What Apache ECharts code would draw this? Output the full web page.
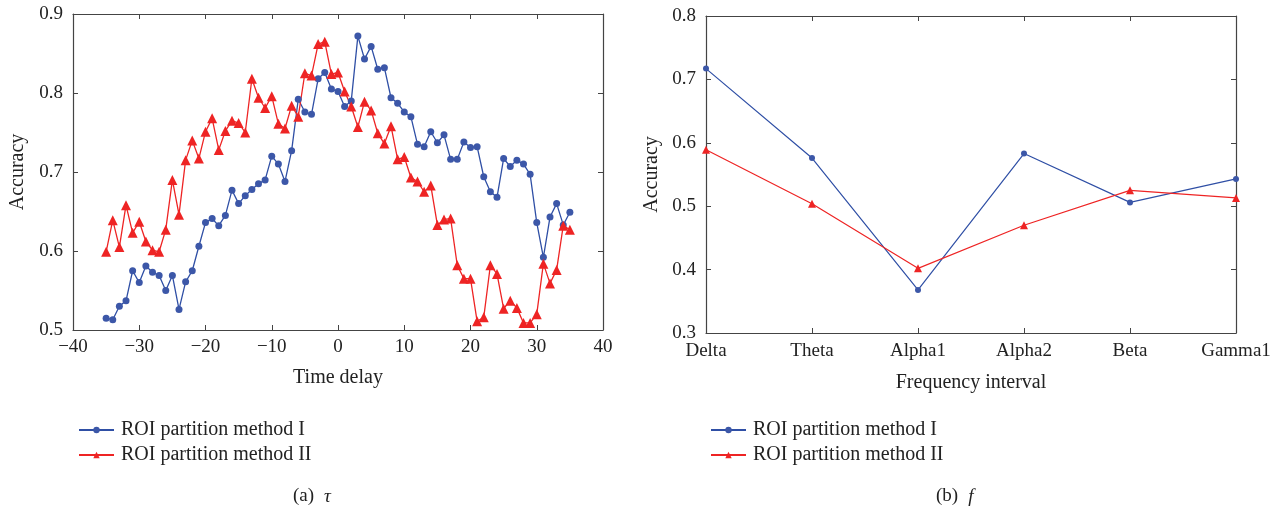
<!DOCTYPE html>
<html>
<head>
<meta charset="utf-8">
<script src="https://cdn.jsdelivr.net/npm/echarts@6/dist/echarts.min.js"></script>
<style>html,body{margin:0;padding:0;background:#fff}#c{width:1284px;height:509px}</style>
</head>
<body>
<div id="c"></div>
<script>
// ---- Data ----
const tauValues = [-35,-34,-33,-32,-31,-30,-29,-28,-27,-26,-25,-24,-23,-22,-21,-20,-19,-18,-17,-16,-15,-14,-13,-12,-11,-10,-9,-8,-7,-6,-5,-4,-3,-2,-1,0,1,2,3,4,5,6,7,8,9,10,11,12,13,14,15,16,17,18,19,20,21,22,23,24,25,26,27,28,29,30,31,32,33,34,35];
const tauMethod1 = [0.515,0.513,0.530,0.537,0.575,0.560,0.581,0.573,0.569,0.550,0.569,0.526,0.561,0.575,0.606,0.636,0.641,0.632,0.645,0.677,0.660,0.670,0.678,0.685,0.690,0.720,0.710,0.688,0.727,0.792,0.776,0.773,0.818,0.826,0.805,0.802,0.783,0.790,0.872,0.843,0.859,0.830,0.832,0.794,0.787,0.776,0.770,0.735,0.732,0.751,0.737,0.747,0.716,0.716,0.738,0.731,0.732,0.694,0.675,0.668,0.717,0.707,0.715,0.710,0.697,0.636,0.592,0.643,0.660,0.633,0.649];
const tauMethod2 = [0.599,0.639,0.605,0.658,0.623,0.637,0.612,0.601,0.599,0.627,0.690,0.646,0.715,0.740,0.717,0.751,0.768,0.728,0.752,0.765,0.762,0.750,0.818,0.794,0.781,0.796,0.761,0.755,0.784,0.770,0.825,0.822,0.862,0.865,0.824,0.826,0.802,0.783,0.757,0.789,0.778,0.749,0.736,0.758,0.716,0.719,0.693,0.688,0.675,0.683,0.633,0.640,0.641,0.582,0.565,0.565,0.511,0.516,0.582,0.571,0.527,0.537,0.528,0.509,0.509,0.520,0.584,0.559,0.576,0.632,0.627];
const bands = ['Delta','Theta','Alpha1','Alpha2','Beta','Gamma1'];
const bandMethod1 = [0.717,0.576,0.368,0.583,0.506,0.543];
const bandMethod2 = [0.589,0.504,0.402,0.470,0.525,0.513];
const seriesNames = ['ROI partition method I','ROI partition method II'];
const leftXTicks = {min:-40,max:40,interval:10};
const leftYTicks = {min:0.5,max:0.9,interval:0.1};
const rightYTicks = {min:0.3,max:0.8,interval:0.1};

// ---- Style ----
const FONT = '"Liberation Serif", "DejaVu Serif", serif';
const BLUE = '#2f4fa5', RED = '#ee2424', AX = '#444';
const minus = v => String(v).replace('-', '\u2212');
const lbl = {fontFamily:FONT, fontSize:19, color:'#222'};
const nameLbl = {fontFamily:FONT, fontSize:20, color:'#222'};
const legLbl = {fontFamily:FONT, fontSize:20, color:'#222', padding:[0,0,0,2]};

function valAxis(o, extra){
  return Object.assign({
    type:'value', min:o.min, max:o.max, interval:o.interval,
    axisLine:{show:true, onZero:false, lineStyle:{color:AX, width:1.2}},
    axisTick:{show:true, inside:true, length:5, lineStyle:{color:AX}},
    splitLine:{show:false},
    axisLabel:Object.assign({formatter:v=>minus(+v.toFixed(2))}, lbl)
  }, extra||{});
}

const tauData1 = tauValues.map((t,i)=>[t, tauMethod1[i]]);
const tauData2 = tauValues.map((t,i)=>[t, tauMethod2[i]]);

const leftX = valAxis(leftXTicks, {gridIndex:0, position:'bottom', name:'Time delay', nameLocation:'middle', nameGap:38, nameTextStyle:nameLbl,
  axisLabel:Object.assign({formatter:v=>minus(v), margin:8}, lbl)});
const leftY = valAxis(leftYTicks, {gridIndex:0, position:'left', name:'Accuracy', nameLocation:'middle', nameGap:45, nameTextStyle:nameLbl,
  axisLabel:Object.assign({formatter:v=>(+v).toFixed(1), margin:10}, lbl)});
const rightX = {type:'category', gridIndex:1, data:bands, boundaryGap:false, position:'bottom',
  axisLine:{show:true, lineStyle:{color:AX, width:1.2}},
  axisTick:{show:true, inside:true, length:5, alignWithLabel:true, lineStyle:{color:AX}},
  axisLabel:Object.assign({margin:9, interval:0}, lbl),
  name:'Frequency interval', nameLocation:'middle', nameGap:40, nameTextStyle:nameLbl};
const rightY = valAxis(rightYTicks, {gridIndex:1, position:'left', name:'Accuracy', nameLocation:'middle', nameGap:44, nameTextStyle:nameLbl,
  axisLabel:Object.assign({formatter:v=>(+v).toFixed(1), margin:10}, lbl)});

const capRich = {n:{fontFamily:FONT,fontSize:19,color:'#222',fontWeight:'normal'}, i:{fontFamily:FONT,fontSize:19,fontStyle:'italic',color:'#222',fontWeight:'normal'}};

const option = {
  animation:false,
  backgroundColor:'#fff',
  grid:[
    {left:73, right:681, top:14, bottom:179},
    {left:706, right:48, top:16, bottom:176}
  ],
  xAxis:[
    leftX,
    Object.assign({}, leftX, {position:'top', name:'', axisLabel:{show:false}}),
    rightX,
    Object.assign({}, rightX, {position:'top', name:'', axisLabel:{show:false}})
  ],
  yAxis:[
    leftY,
    Object.assign({}, leftY, {position:'right', name:'', axisLabel:{show:false}}),
    rightY,
    Object.assign({}, rightY, {position:'right', name:'', axisLabel:{show:false}})
  ],
  legend:[
    {orient:'vertical', left:73, top:415, itemWidth:35, itemHeight:8, itemGap:5, data:seriesNames,
     textStyle:legLbl, selectedMode:false},
    {orient:'vertical', left:705, top:415, itemWidth:35, itemHeight:8, itemGap:5, data:seriesNames,
     textStyle:legLbl, selectedMode:false}
  ],
  title:[
    {text:'{n|(a)}  {i|\u03c4}', left:288, top:482, textStyle:{rich:capRich}},
    {text:'{n|(b)}  {i|f}', left:931, top:482, textStyle:{rich:capRich}}
  ],
  series:[
    {name:seriesNames[0], type:'line', xAxisIndex:0, yAxisIndex:0, data:tauData1, symbol:'circle', symbolSize:7,
     lineStyle:{color:BLUE, width:1.3}, itemStyle:{color:'#3c57a8'}},
    {name:seriesNames[1], type:'line', xAxisIndex:0, yAxisIndex:0, data:tauData2, symbol:'triangle', symbolSize:10,
     lineStyle:{color:RED, width:1.3}, itemStyle:{color:RED}},
    {name:seriesNames[0], type:'line', xAxisIndex:2, yAxisIndex:2, data:bandMethod1, symbol:'circle', symbolSize:6,
     lineStyle:{color:BLUE, width:1.2}, itemStyle:{color:'#3c57a8'}},
    {name:seriesNames[1], type:'line', xAxisIndex:2, yAxisIndex:2, data:bandMethod2, symbol:'triangle', symbolSize:8,
     lineStyle:{color:RED, width:1.2}, itemStyle:{color:RED}}
  ]
};
const chart = echarts.init(document.getElementById('c'), null, {renderer:'canvas'});
chart.setOption(option);
</script>
</body>
</html>
